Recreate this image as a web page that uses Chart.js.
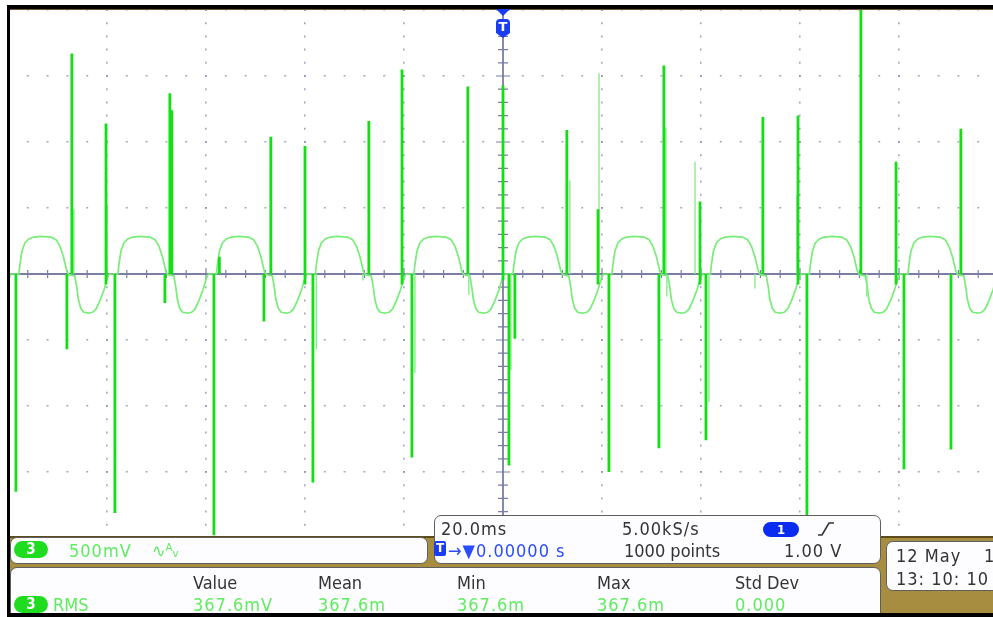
<!DOCTYPE html>
<html>
<head>
<meta charset="utf-8">
<title>CH3 500mV 20.0ms</title>
<script src="https://cdn.jsdelivr.net/npm/chart.js@4.4.1/dist/chart.umd.min.js"></script>
<style>
  html, body { margin: 0; padding: 0; background: #fff; width: 993px; height: 617px; overflow: hidden; }
  body { position: relative; font-family: "DejaVu Sans Condensed", "DejaVu Sans", sans-serif; }
  #scope { position: absolute; left: 0; top: 0; width: 1006px; height: 548px; }
  .bar { position: absolute; background: #000; }
  .khaki { position: absolute; left: 10px; top: 536px; width: 990px; height: 78px; background: #a68d40; border-top: 2px solid #5c4b1d; }
  .box { position: absolute; background: #fdfcff; border: 1px solid #5f5f5f; border-radius: 7px; box-sizing: border-box; }
  .t { position: absolute; font-size: 18px; line-height: 18px; white-space: nowrap; color: #333; }
  .n { letter-spacing: 1px; }
  .g { color: #5fec5f; }
  .b { color: #2a4cff; }
  .pill { position: absolute; width: 34px; height: 17px; line-height: 17px; border-radius: 9px; background: #20dc20; color: #fff; text-align: center; font-size: 15px; font-weight: bold; }
  .bpill { position: absolute; left: 763px; top: 522px; width: 36px; height: 15px; line-height: 15px; border-radius: 8px; background: #0a2cf0; color: #fff; text-align: center; font-size: 13px; font-weight: bold; }
  .tri { position: absolute; left: 496px; top: 9px; width: 0; height: 0; border-left: 7px solid transparent; border-right: 7px solid transparent; border-top: 7px solid #1a3cf5; }
  .shield { position: absolute; left: 496px; top: 19px; width: 14px; height: 19px; background: #1a3cf5; border-radius: 4px 4px 0 0; clip-path: polygon(0 0, 100% 0, 100% 74%, 50% 100%, 0 74%); color: #fff; font: bold 13px/16px "DejaVu Sans", sans-serif; text-align: center; }
  .ticon { position: absolute; left: 434px; top: 541px; width: 12px; height: 15px; background: #1a3cf5; color: #fff; font: bold 12px/15px "DejaVu Sans", sans-serif; text-align: center; border-radius: 2px; }
</style>
</head>
<body>
<div id="scope"><canvas id="scopeChart"></canvas></div>

<!-- bezel -->
<div class="bar" style="left:7px;top:5px;width:990px;height:4px"></div>
<div class="bar" style="left:7px;top:9px;width:990px;height:1px;background:#6e5434"></div>
<div class="bar" style="left:7px;top:5px;width:3px;height:612px"></div>

<!-- trigger position marker -->
<div class="tri"></div>
<div class="shield">T</div>

<!-- readout panels -->
<div class="khaki"></div>
<div class="box" style="left:10px;top:537px;width:418px;height:27px"></div>
<div class="box" style="left:434px;top:515px;width:447px;height:49px"></div>
<div class="box" style="left:10px;top:567px;width:871px;height:56px"></div>
<div class="box" style="left:886px;top:541px;width:120px;height:50px"></div>

<div class="pill" style="left:14px;top:541px">3</div>
<div class="t g n" style="left:69px;top:542px">500mV</div>
<div class="t g" style="left:152px;top:542px">∿ᴬᵥ</div>

<div class="t n" style="left:441px;top:520px">20.0ms</div>
<div class="t n" style="left:622px;top:520px">5.00kS/s</div>
<div class="bpill">1</div>
<svg style="position:absolute;left:0;top:0" width="993" height="617">
  <path d="M818 535 L822 535 L829 523 L834 523" stroke="#333" stroke-width="1.6" fill="none"/>
</svg>
<div class="ticon">T</div>
<div class="t b n" style="left:448px;top:542px">→▼0.00000 s</div>
<div class="t" style="left:624px;top:542px">1000 points</div>
<div class="t n" style="left:784px;top:542px">1.00 V</div>

<div class="t" style="left:193px;top:574px">Value</div>
<div class="t" style="left:318px;top:574px">Mean</div>
<div class="t" style="left:457px;top:574px">Min</div>
<div class="t" style="left:597px;top:574px">Max</div>
<div class="t" style="left:735px;top:574px">Std Dev</div>
<div class="pill" style="left:14px;top:596px">3</div>
<div class="t g" style="left:53px;top:596px">RMS</div>
<div class="t g n" style="left:193px;top:596px">367.6mV</div>
<div class="t g n" style="left:318px;top:596px">367.6m</div>
<div class="t g n" style="left:457px;top:596px">367.6m</div>
<div class="t g n" style="left:597px;top:596px">367.6m</div>
<div class="t g n" style="left:735px;top:596px">0.000</div>

<div class="t n" style="left:896px;top:547px">12 May</div>
<div class="t" style="left:984px;top:547px">1</div>
<div class="t n" style="left:896px;top:570px">13: 10: 10</div>

<div class="bar" style="left:7px;top:613px;width:990px;height:4px"></div>

<script>
// Channel 3 capture, time in ms relative to trigger, amplitude in volts
const traceMs = [
  -100.4, -99.9, -99.5,
  -97.8, -97.6, -97.2, -96.6, -95.8, -94.8, -93.3, -91.3, -90.3, -89.5, -88.8, -88.1, -87.7, -86.5, -86.1, -85.8, -85.3, -84.7, -83.7, -82.9, -82.2, -81.4, -80.6, -79.9, -79.5,
  -77.8, -77.6, -77.2, -76.6, -75.8, -74.8, -73.3, -71.3, -70.3, -69.5, -68.8, -68.1, -67.7, -66.5, -66.1, -65.8, -65.3, -64.7, -63.7, -62.9, -62.2, -61.4, -60.6, -59.9, -59.5,
  -57.9, -57.7, -57.3, -56.7, -55.9, -54.9, -53.4, -51.4, -50.4, -49.6, -48.9, -48.2, -47.8, -46.6, -46.2, -45.9, -45.4, -44.8, -43.8, -43.0, -42.3, -41.5, -40.7, -40.0, -39.6,
  -37.9, -37.7, -37.3, -36.7, -35.9, -34.9, -33.4, -31.4, -30.4, -29.6, -28.9, -28.2, -27.8, -26.6, -26.2, -25.9, -25.4, -24.8, -23.8, -23.0, -22.3, -21.5, -20.7, -20.0, -19.6,
  -18.0, -17.8, -17.4, -16.8, -16.0, -15.0, -13.5, -11.5, -10.5, -9.7, -9.0, -8.3, -7.9, -6.7, -6.3, -6.0, -5.5, -4.9, -3.9, -3.1, -2.4, -1.6, -0.8, -0.1, 0.3,
  2.0, 2.2, 2.6, 3.2, 4.0, 5.0, 6.5, 8.5, 9.5, 10.3, 11.0, 11.7, 12.1, 13.3, 13.7, 14.0, 14.5, 15.1, 16.1, 16.9, 17.6, 18.4, 19.2, 19.9, 20.3,
  22.0, 22.2, 22.6, 23.2, 24.0, 25.0, 26.5, 28.5, 29.5, 30.3, 31.0, 31.7, 32.1, 33.3, 33.7, 34.0, 34.5, 35.1, 36.1, 36.9, 37.6, 38.4, 39.2, 39.9, 40.3,
  41.9, 42.1, 42.5, 43.1, 43.9, 44.9, 46.4, 48.4, 49.4, 50.2, 50.9, 51.6, 52.0, 53.2, 53.6, 53.9, 54.4, 55.0, 56.0, 56.8, 57.5, 58.3, 59.1, 59.8, 60.2,
  61.9, 62.1, 62.5, 63.1, 63.9, 64.9, 66.4, 68.4, 69.4, 70.2, 70.9, 71.6, 72.0, 73.2, 73.6, 73.9, 74.4, 75.0, 76.0, 76.8, 77.5, 78.3, 79.1, 79.8, 80.2,
  81.8, 82.0, 82.4, 83.0, 83.8, 84.8, 86.3, 88.3, 89.3, 90.1, 90.8, 91.5, 91.9, 93.1, 93.5, 93.8, 94.3, 94.9, 95.9, 96.7, 97.4, 98.2, 99.0, 99.7, 100.1,
];
const traceV = [
  -0.15, -0.05, 0,
  0, 0.07, 0.17, 0.235, 0.265, 0.28, 0.285, 0.28, 0.26, 0.21, 0.13, 0.02, -0.005, -0.015, -0.1, -0.19, -0.26, -0.29, -0.297, -0.29, -0.265, -0.2, -0.12, -0.03, 0,
  0, 0.07, 0.17, 0.235, 0.265, 0.28, 0.285, 0.28, 0.26, 0.21, 0.13, 0.02, -0.005, -0.015, -0.1, -0.19, -0.26, -0.29, -0.297, -0.29, -0.265, -0.2, -0.12, -0.03, 0,
  0, 0.07, 0.17, 0.235, 0.265, 0.28, 0.285, 0.28, 0.26, 0.21, 0.13, 0.02, -0.005, -0.015, -0.1, -0.19, -0.26, -0.29, -0.297, -0.29, -0.265, -0.2, -0.12, -0.03, 0,
  0, 0.07, 0.17, 0.235, 0.265, 0.28, 0.285, 0.28, 0.26, 0.21, 0.13, 0.02, -0.005, -0.015, -0.1, -0.19, -0.26, -0.29, -0.297, -0.29, -0.265, -0.2, -0.12, -0.03, 0,
  0, 0.07, 0.17, 0.235, 0.265, 0.28, 0.285, 0.28, 0.26, 0.21, 0.13, 0.02, -0.005, -0.015, -0.1, -0.19, -0.26, -0.29, -0.297, -0.29, -0.265, -0.2, -0.12, -0.03, 0,
  0, 0.07, 0.17, 0.235, 0.265, 0.28, 0.285, 0.28, 0.26, 0.21, 0.13, 0.02, -0.005, -0.015, -0.1, -0.19, -0.26, -0.29, -0.297, -0.29, -0.265, -0.2, -0.12, -0.03, 0,
  0, 0.07, 0.17, 0.235, 0.265, 0.28, 0.285, 0.28, 0.26, 0.21, 0.13, 0.02, -0.005, -0.015, -0.1, -0.19, -0.26, -0.29, -0.297, -0.29, -0.265, -0.2, -0.12, -0.03, 0,
  0, 0.07, 0.17, 0.235, 0.265, 0.28, 0.285, 0.28, 0.26, 0.21, 0.13, 0.02, -0.005, -0.015, -0.1, -0.19, -0.26, -0.29, -0.297, -0.29, -0.265, -0.2, -0.12, -0.03, 0,
  0, 0.07, 0.17, 0.235, 0.265, 0.28, 0.285, 0.28, 0.26, 0.21, 0.13, 0.02, -0.005, -0.015, -0.1, -0.19, -0.26, -0.29, -0.297, -0.29, -0.265, -0.2, -0.12, -0.03, 0,
  0, 0.07, 0.17, 0.235, 0.265, 0.28, 0.285, 0.28, 0.26, 0.21, 0.13, 0.02, -0.005, -0.015, -0.1, -0.19, -0.26, -0.29, -0.297, -0.29, -0.265, -0.2, -0.12, -0.03, 0,
];

// switching transients: time, level they leave from, peak level
const spikeMs = [
  -87.1, -80.2, -67.3, -66.9, -57.3, -46.9, -40.0, -27.1, -20.4, -7.1, 0.0, 12.9, 19.2, 32.5, 39.8, 52.5, 59.6, 72.3, 79.4, 92.5,
  -98.4, -88.1, -78.4, -68.3, -58.4, -48.3, -38.4, -18.4, 1.2, 2.4, 21.4, 31.5, 41.0, 61.4, 81.0, 90.5,
];
const spikeBaseV = [
  0, -0.08, 0, 0, 0, 0, -0.08, 0, -0.08, 0, -0.05, 0, -0.08, 0, -0.08, 0, -0.08, 0, -0.08, 0,
  0, 0, 0, 0, 0, 0, 0, 0, 0, 0, 0, 0, 0, 0, 0, 0,
];
const spikePeakV = [
  1.67, 1.14, 1.37, 1.24, 0.13, 1.04, 0.97, 1.16, 1.55, 1.42, 1.43, 1.09, 0.49, 1.58, 0.55, 1.19, 1.20, 2.0, 0.85, 1.10,
  -1.65, -0.57, -1.81, -0.22, -1.98, -0.36, -1.58, -1.39, -1.45, -0.49, -1.50, -1.32, -1.26, -2.1, -1.48, -1.33,
];

// fainter ringing strands next to the main transients
const strandMs = [-86.7, -80.0, 13.5, 19.4, 32.9, 38.8, 59.4, -37.7, -17.8, 1.6, 41.6, -28.3, -6.9, 33.1, 50.9, 73.5];
const strandPeakV = [0.49, 0.52, 0.71, 1.52, 1.11, 0.85, 0.60, -0.57, -0.75, -0.73, -0.97, -0.05, -0.16, -0.17, -0.11, -0.17];

// screen: 10 divisions of 20 ms, 8 divisions of 500 mV
const msPerDiv = 20;
const voltsPerDiv = 0.5;
const minorMs = 4;
const minorV = 0.1;

const tracePoints = traceMs.map((t, i) => ({ x: t, y: traceV[i] }));

const spikePoints = [];
spikeMs.forEach((t, i) => {
  spikePoints.push({ x: t, y: spikeBaseV[i] }, { x: t, y: spikePeakV[i] }, { x: t, y: null });
});

const strandPoints = [];
strandMs.forEach((t, i) => {
  strandPoints.push({ x: t, y: 0 }, { x: t, y: strandPeakV[i] }, { x: t, y: null });
});

// solid centre cross with minor tick marks, drawn under the trace
const centreCross = {
  id: 'centreCross',
  beforeDatasetsDraw(chart) {
    const { ctx, chartArea: a, scales: { x, y } } = chart;
    const x0 = x.getPixelForValue(0);
    const y0 = y.getPixelForValue(0);
    ctx.save();
    ctx.strokeStyle = '#7a7ea6';
    ctx.lineWidth = 1.8;
    ctx.beginPath();
    ctx.moveTo(a.left, y0); ctx.lineTo(a.right, y0);
    ctx.moveTo(x0, a.top); ctx.lineTo(x0, a.bottom);
    ctx.stroke();

    ctx.lineWidth = 1.2;
    ctx.beginPath();
    for (let i = -25; i <= 25; i++) {
      const px = x.getPixelForValue(i * minorMs);
      const h = i % 5 === 0 ? 6 : 4;
      ctx.moveTo(px, y0 - h); ctx.lineTo(px, y0 + h);
    }
    for (let i = -20; i <= 20; i++) {
      const py = y.getPixelForValue(i * minorV);
      const w = i % 5 === 0 ? 7 : 5;
      ctx.moveTo(x0 - w, py); ctx.lineTo(x0 + w, py);
    }
    ctx.stroke();
    ctx.restore();
  },
};

const dotColor = 'rgba(140, 144, 182, 0.8)';

new Chart(document.getElementById('scopeChart'), {
  type: 'line',
  data: {
    datasets: [
      {
        label: 'spikes',
        data: spikePoints,
        borderColor: '#14de14',
        borderWidth: 2.8,
        pointRadius: 0,
        spanGaps: false,
        order: 0,
      },
      {
        label: 'strands',
        data: strandPoints,
        borderColor: '#86ef86',
        borderWidth: 1.4,
        pointRadius: 0,
        spanGaps: false,
        order: 1,
      },
      {
        label: 'CH3',
        data: tracePoints,
        borderColor: '#78ed78',
        borderWidth: 1.7,
        pointRadius: 0,
        tension: 0,
        order: 2,
      },
    ],
  },
  options: {
    responsive: true,
    maintainAspectRatio: false,
    devicePixelRatio: 1,
    animation: false,
    events: [],
    layout: { padding: { left: 8, top: 10, right: 8, bottom: 10 } },
    plugins: {
      legend: { display: false },
      tooltip: { enabled: false },
    },
    scales: {
      x: {
        type: 'linear',
        min: -5 * msPerDiv,
        max: 5 * msPerDiv,
        ticks: { display: false, stepSize: msPerDiv },
        grid: { color: dotColor, lineWidth: 1.6, drawTicks: false },
        border: { display: false, dash: [2, 11.2], dashOffset: 1 },
      },
      y: {
        type: 'linear',
        min: -4 * voltsPerDiv,
        max: 4 * voltsPerDiv,
        ticks: { display: false, stepSize: voltsPerDiv },
        grid: { color: dotColor, lineWidth: 1.6, drawTicks: false },
        border: { display: false, dash: [2, 17.8], dashOffset: 1 },
      },
    },
  },
  plugins: [centreCross],
});
</script>
</body>
</html>
